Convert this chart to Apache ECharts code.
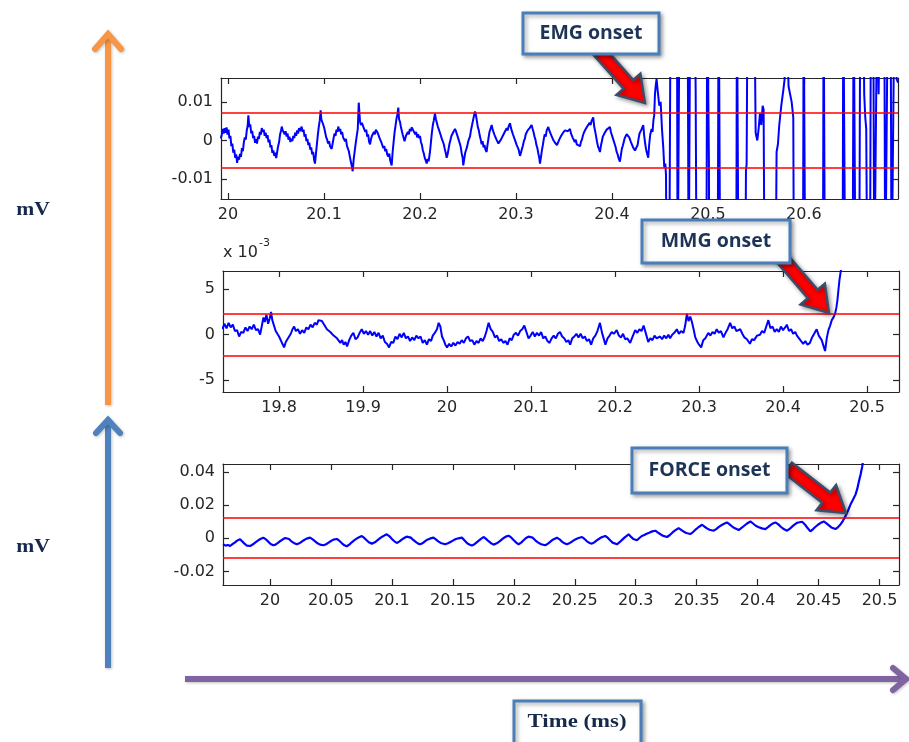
<!DOCTYPE html>
<html><head><meta charset="utf-8">
<script src="https://cdn.jsdelivr.net/npm/echarts@6/dist/echarts.min.js"></script>
<style>html,body{margin:0;padding:0;background:#fff}#c{width:909px;height:742px}</style>
</head><body><div id="c"></div>
<script>
// ---------------- DATA ----------------
// EMG: [time, amplitude in 1e-3 mV]
const emgSamples = [
[19.9925,0.5],[19.9935,1.5],[19.9945,3],[19.9955,1.8],[19.9965,3.2],[19.9975,2],[19.9985,3.4],[19.9995,1.5],[20.0005,2.8],[20.0015,0.5],[20.0025,1.2],[20.0035,-1.5],[20.0045,-0.8],[20.0055,-3.2],[20.0065,-2.4],[20.0075,-4.5],[20.0085,-3.6],[20.0095,-5.8],[20.0105,-4.2],[20.0115,-5],[20.0125,-3.5],[20.0135,-4.3],[20.0145,-2],[20.0155,-2.8],[20.0165,-0.5],[20.0175,0.8],[20.0185,0.2],[20.0195,2.5],[20.0205,3.8],[20.0212,6.5],[20.0222,3.5],[20.0232,4.2],[20.0242,1.8],[20.0252,2.5],[20.0262,0.6],[20.0272,1.2],[20.0282,-0.6],[20.0292,0.3],[20.0302,-0.8],[20.0312,1],[20.0322,0.4],[20.0332,2.2],[20.0342,1.5],[20.0352,3.2],[20.0362,2.2],[20.0372,2.8],[20.0382,1.2],[20.0392,2],[20.0402,0.6],[20.0412,1.4],[20.0422,-0.5],[20.0432,0.2],[20.0442,-1.8],[20.0452,-1.2],[20.0462,-3.2],[20.0472,-2.6],[20.0482,-4],[20.0492,-3.2],[20.0502,-4.6],[20.0512,-3],[20.0522,-1.5],[20.0532,-0.5],[20.0542,1.5],[20.0552,2.5],[20.056,3.6],[20.057,2.6],[20.058,3],[20.059,1.6],[20.06,2.4],[20.061,1],[20.062,1.8],[20.063,0.2],[20.064,1],[20.065,-0.4],[20.066,0.4],[20.067,-0.2],[20.068,1.2],[20.069,0.6],[20.07,2],[20.071,1.2],[20.072,2.6],[20.073,1.8],[20.074,3.2],[20.075,2.4],[20.0767,3.6],[20.0777,2.2],[20.0787,2.8],[20.0797,1],[20.0807,1.6],[20.0817,-0.2],[20.0827,0.4],[20.0837,-1.2],[20.0847,-0.6],[20.0857,-2.4],[20.0867,-1.8],[20.0877,-3.6],[20.0887,-3],[20.0897,-5],[20.0906,-6],[20.0916,-3.5],[20.0926,-1],[20.0936,1.5],[20.0946,3.6],[20.0956,5.2],[20.0965,7.8],[20.0972,5.5],[20.0982,6],[20.0993,4],[20.1003,3.2],[20.1013,2],[20.1023,0.8],[20.1033,0.2],[20.1043,-0.8],[20.1053,-0.2],[20.1063,-1.5],[20.1073,-1],[20.108,-2.2],[20.109,-0.8],[20.11,0.6],[20.111,1.8],[20.112,1.2],[20.113,2.8],[20.114,2.2],[20.1149,3.6],[20.1159,2.4],[20.1169,3],[20.1179,1.6],[20.1189,2.2],[20.1199,0.8],[20.1209,1.2],[20.1219,-0.2],[20.1229,0.4],[20.1239,-1.4],[20.1249,-1],[20.1259,-2.8],[20.1269,-4.2],[20.1279,-5.4],[20.1289,-6.6],[20.1299,-8],[20.1309,-5],[20.1319,-3],[20.1329,-1],[20.134,1],[20.1352,3],[20.1362,9.8],[20.1368,10.2],[20.1375,5],[20.1385,4],[20.1395,4.6],[20.141,3.5],[20.142,3.8],[20.143,2.2],[20.144,2.8],[20.145,1],[20.146,1.6],[20.147,-0.4],[20.148,-1],[20.149,0.4],[20.15,1.2],[20.151,0.8],[20.152,2.2],[20.153,1.6],[20.154,2.8],[20.1549,3.2],[20.1559,2],[20.1569,2.4],[20.1579,0.6],[20.1589,1],[20.1599,-0.6],[20.1609,-0.2],[20.1618,-2],[20.1628,-1.4],[20.1638,-2.8],[20.1648,-2.2],[20.1658,-3.6],[20.167,-4.2],[20.168,-3.4],[20.169,-5.2],[20.1705,-6.5],[20.1715,-3],[20.1725,-0.5],[20.1735,2],[20.1745,3.8],[20.1755,5.6],[20.1765,6.8],[20.1774,8.5],[20.1782,5.5],[20.1792,4.8],[20.1802,3.4],[20.1809,3],[20.1819,1.6],[20.1829,1.2],[20.1839,-0.2],[20.1844,0.2],[20.1854,1.2],[20.1864,0.8],[20.1874,2.2],[20.1884,1.6],[20.1894,3],[20.1904,2.4],[20.1914,3.4],[20.193,2.6],[20.194,3],[20.195,1.6],[20.196,2.2],[20.197,0.8],[20.198,1.6],[20.199,0.6],[20.2,1.2],[20.201,-0.4],[20.202,-1.2],[20.203,-2.6],[20.204,-3.4],[20.205,-4.6],[20.206,-5.2],[20.207,-6],[20.208,-4.8],[20.209,-5.4],[20.2104,-3],[20.2114,-0.5],[20.2124,2],[20.2134,4],[20.2144,5.2],[20.2156,7],[20.2166,5.5],[20.2176,5.8],[20.2186,3.6],[20.2196,4],[20.2208,2],[20.2218,1.6],[20.2228,0.4],[20.2238,0.8],[20.2248,-1],[20.2258,-2.2],[20.2268,-3.2],[20.2278,-4.5],[20.2288,-3.6],[20.2298,-2.2],[20.2308,-0.8],[20.2318,0.2],[20.2328,1.2],[20.2338,0.8],[20.2348,2.2],[20.2358,1.8],[20.2365,3],[20.2375,2.4],[20.2385,2.6],[20.2395,0.8],[20.2405,1.2],[20.2415,-0.8],[20.2425,-1.8],[20.2435,-3.4],[20.2445,-4.6],[20.2451,-6.5],[20.2461,-4.8],[20.2471,-3.2],[20.2481,-2.4],[20.2491,-1.6],[20.2501,-0.4],[20.2511,0.4],[20.2521,1],[20.2531,2.6],[20.2541,3.8],[20.2551,5],[20.2561,6.2],[20.2573,7.5],[20.2583,6.6],[20.2593,5],[20.2603,3.4],[20.2613,2.6],[20.2623,1.2],[20.2633,0.2],[20.2642,-1],[20.2652,-0.2],[20.2662,-1.8],[20.2672,-1.2],[20.2682,-2.4],[20.2694,-3],[20.2704,-1],[20.2714,0.6],[20.2724,2.2],[20.2734,1.8],[20.2747,4],[20.2757,2.8],[20.2767,3.2],[20.2777,1.4],[20.2787,1.8],[20.2797,0.2],[20.2807,0.6],[20.2817,-0.8],[20.2827,-0.4],[20.2833,-1],[20.2843,0.2],[20.2853,-0.2],[20.2863,1.2],[20.2873,0.8],[20.2883,2.2],[20.2893,1.8],[20.2903,3.2],[20.2913,2.6],[20.2923,3.6],[20.2938,4.5],[20.2948,3.2],[20.2958,3.6],[20.2968,1.6],[20.2978,2],[20.2988,0.2],[20.2998,0.6],[20.3008,-1.2],[20.3018,-0.8],[20.3028,-2.4],[20.3038,-2],[20.3042,-4],[20.3052,-3.2],[20.3062,-2.2],[20.3072,-1.4],[20.3082,-0.2],[20.3092,0.4],[20.3102,1.6],[20.3112,1.2],[20.3122,2.6],[20.3132,2.2],[20.3142,3.2],[20.3152,2.8],[20.3163,4],[20.3173,3],[20.3183,2.2],[20.3193,1],[20.3203,0.2],[20.3213,-1.2],[20.3223,-2],[20.3233,-3.4],[20.3243,-4.6],[20.325,-6],[20.326,-4.4],[20.327,-2.6],[20.328,-1.2],[20.329,0.4],[20.33,1.6],[20.331,1],[20.332,2.6],[20.3337,3.5],[20.3347,2.6],[20.3357,3],[20.3367,1.4],[20.3377,1.8],[20.3387,0.2],[20.3397,0.6],[20.3407,-0.6],[20.3417,-0.2],[20.3427,-1.2],[20.3441,-1],[20.3451,0.2],[20.3461,-0.2],[20.3471,1.2],[20.3481,0.8],[20.3491,2],[20.3501,1.6],[20.3511,2.6],[20.3521,2.2],[20.3531,3],[20.3541,2.4],[20.3551,2.8],[20.3563,3],[20.3573,1.8],[20.3583,2.2],[20.3593,0.6],[20.3603,1],[20.3613,-0.4],[20.3623,0.2],[20.3633,-1],[20.3643,-0.6],[20.3653,-1.4],[20.3667,-1.5],[20.3677,-0.4],[20.3687,0.2],[20.3697,1.2],[20.3707,2],[20.3717,1.6],[20.3727,3],[20.3737,2.6],[20.3747,3.8],[20.3757,3.4],[20.3767,4.6],[20.3777,4],[20.3787,5],[20.3805,6],[20.3815,3.6],[20.3825,2.4],[20.3835,1],[20.3845,-0.4],[20.3855,-1.6],[20.3865,-2.2],[20.3875,-3],[20.3885,-1.4],[20.3895,-0.2],[20.3905,1],[20.3915,0.6],[20.3925,2],[20.3935,1.6],[20.3945,2.8],[20.3955,2.4],[20.3965,3.2],[20.3979,3.5],[20.3989,2.2],[20.3999,2.4],[20.4009,0.6],[20.4019,0.8],[20.4029,-1],[20.4039,-1.8],[20.4049,-3],[20.4059,-3.6],[20.4069,-4.6],[20.4083,-5.5],[20.4093,-3.8],[20.4103,-2.2],[20.4113,-1.4],[20.4123,-0.4],[20.4133,0.6],[20.4143,0.2],[20.4153,1.6],[20.4163,1.2],[20.417,2],[20.418,0.8],[20.419,1],[20.42,-0.6],[20.421,-0.4],[20.422,-1.8],[20.423,-1.4],[20.424,-2.6],[20.4257,-3],[20.4267,-1.2],[20.4277,0.4],[20.4287,1.8],[20.4297,1.4],[20.4307,2.8],[20.4317,2.4],[20.4326,4],[20.4336,1.2],[20.4346,-0.8],[20.4356,-2.4],[20.4366,-3.4],[20.4378,-4.5],[20.4388,-1],[20.4398,1.4],[20.4413,3],[20.4423,2.2],[20.4432,5.2],[20.444,6.5],[20.4448,12],[20.4457,14.5],[20.4465,16],[20.4476,13],[20.4485,11],[20.4493,9],[20.4507,10],[20.4521,3],[20.4535,-2],[20.4545,-7],[20.4556,-6],[20.4563,-9],[20.457,-40],[20.4597,-40],[20.4611,40],[20.4677,40],[20.4684,-40],[20.4694,-40],[20.4705,40],[20.4788,40],[20.4799,-40],[20.4806,-40],[20.4816,40],[20.4861,40],[20.4872,13],[20.4882,-40],[20.4983,-40],[20.4993,40],[20.5003,40],[20.501,-5],[20.5014,-40],[20.5101,-40],[20.5111,40],[20.5118,13],[20.5128,-40],[20.5295,-40],[20.5302,40],[20.5313,40],[20.5319,-40],[20.5389,-40],[20.5396,-8],[20.5403,-6],[20.5413,40],[20.5483,40],[20.5497,2],[20.5514,0],[20.5528,3],[20.5542,7],[20.5556,4],[20.557,9],[20.558,8],[20.559,-40],[20.5705,-40],[20.5715,-3],[20.5729,-1],[20.5743,4],[20.5764,9],[20.5785,13],[20.5799,16],[20.5809,40],[20.5823,40],[20.584,14],[20.5872,10],[20.5889,6],[20.5896,-40],[20.599,-40],[20.5997,40],[20.6007,40],[20.6014,-40],[20.6198,-40],[20.6205,40],[20.6212,40],[20.6219,-40],[20.6403,-40],[20.641,40],[20.642,40],[20.6431,-40],[20.6507,-40],[20.6518,40],[20.6528,40],[20.6538,-40],[20.6576,-40],[20.6587,40],[20.6618,40],[20.6628,12],[20.6639,6],[20.6649,3],[20.666,-40],[20.6688,-40],[20.6698,40],[20.6722,40],[20.6733,-40],[20.675,-40],[20.6764,40],[20.6778,12],[20.6792,40],[20.6837,40],[20.6847,-40],[20.6865,-40],[20.6875,40],[20.6903,40],[20.6913,-40],[20.693,-40],[20.6944,40],[20.6965,16],[20.698,15]
];
// MMG: [time, amplitude in 1e-3 mV]
const mmgSamples = [
[19.7325,0.6],[19.735,1.2],[19.7375,0.7],[19.74,1.3],[19.7425,0.8],[19.745,1.1],[19.7475,0.4],[19.75,0.5],[19.7525,-0.2],[19.755,0.3],[19.7575,0.2],[19.76,0.8],[19.7625,0.4],[19.765,0.9],[19.7675,0.6],[19.77,1.1],[19.7725,0.5],[19.775,0.6],[19.7775,0],[19.78,1.2],[19.7815,1.9],[19.783,1.4],[19.785,2.2],[19.787,1.2],[19.789,1.8],[19.7905,2.5],[19.792,1.6],[19.794,1.4],[19.796,0.4],[19.798,0.6],[19.8,-0.2],[19.802,-0.6],[19.804,-1],[19.806,-1.4],[19.808,-0.8],[19.81,-0.9],[19.812,-0.2],[19.814,0.1],[19.816,0.6],[19.818,0.9],[19.82,0.4],[19.8225,0.6],[19.825,0.1],[19.8275,0.5],[19.83,0.2],[19.8325,0.8],[19.835,0.6],[19.8375,1.1],[19.84,0.8],[19.8425,1.3],[19.845,1.1],[19.847,1.6],[19.849,1.4],[19.851,1.5],[19.853,1.2],[19.855,1],[19.857,0.6],[19.859,0.7],[19.861,0.3],[19.863,0.4],[19.865,-0.1],[19.867,0.1],[19.869,-0.4],[19.871,-0.3],[19.873,-0.9],[19.875,-0.6],[19.877,-1.1],[19.879,-0.8],[19.881,-1.3],[19.8835,-0.6],[19.886,-0.1],[19.8885,0.2],[19.891,-0.5],[19.8935,-0.3],[19.896,0.2],[19.8985,0.6],[19.901,0.1],[19.9035,0.4],[19.906,0],[19.9085,0.4],[19.911,-0.1],[19.9135,0.3],[19.916,-0.2],[19.9185,0.2],[19.921,-0.4],[19.9235,-0.1],[19.926,-0.8],[19.9285,-1],[19.931,-1.4],[19.9335,-0.8],[19.936,-0.9],[19.9385,-0.2],[19.941,-0.5],[19.9435,0.1],[19.946,-0.3],[19.9485,0.2],[19.951,-0.4],[19.9535,-0.2],[19.956,-0.7],[19.9585,-0.3],[19.961,-0.6],[19.9635,-0.1],[19.966,-0.4],[19.9685,-0.2],[19.971,-0.9],[19.9735,-0.6],[19.976,-1.1],[19.9785,-0.5],[19.981,-0.7],[19.983,-0.1],[19.9855,0.2],[19.988,0.6],[19.99,1.3],[19.992,0.9],[19.994,-0.2],[19.996,-0.6],[19.998,-1.1],[20,-1.4],[20.0025,-1],[20.005,-1.3],[20.0075,-0.9],[20.01,-1.2],[20.0125,-0.8],[20.015,-1],[20.0175,-0.6],[20.02,-0.9],[20.0225,-0.4],[20.025,-0.2],[20.0275,-0.7],[20.03,-0.6],[20.0325,-1.1],[20.035,-0.7],[20.0375,-0.9],[20.04,-0.4],[20.0425,-0.7],[20.045,-0.2],[20.047,0.4],[20.0495,1.3],[20.052,0.6],[20.0545,0.3],[20.057,-0.3],[20.0595,-0.1],[20.062,-0.7],[20.0645,-0.5],[20.067,-0.9],[20.0695,-0.7],[20.072,-1.1],[20.0745,-0.4],[20.077,-0.6],[20.0795,0],[20.082,0.2],[20.0845,-0.1],[20.087,0.4],[20.0895,0.6],[20.092,1],[20.0945,0.3],[20.097,-0.4],[20.0995,-0.1],[20.102,0.3],[20.1045,-0.2],[20.107,0.2],[20.1095,-0.1],[20.112,0.3],[20.1145,-0.4],[20.117,-0.2],[20.1195,-0.7],[20.122,-0.9],[20.1245,-0.4],[20.127,-0.1],[20.1295,-0.4],[20.132,0.1],[20.1345,0.3],[20.137,-0.2],[20.1395,-0.4],[20.142,-0.8],[20.1445,-0.6],[20.1465,-1.1],[20.149,-0.4],[20.1515,-0.2],[20.154,0.1],[20.1565,-0.3],[20.159,0.1],[20.1615,-0.4],[20.164,-0.2],[20.1665,-0.7],[20.169,-0.5],[20.1715,-1.1],[20.174,-0.4],[20.1765,-0.1],[20.179,0.4],[20.182,1.3],[20.1845,0.2],[20.187,-0.6],[20.1885,-1.1],[20.191,-0.4],[20.1935,-0.1],[20.196,0.3],[20.1985,0.1],[20.202,0.5],[20.2045,-0.1],[20.207,-0.3],[20.2095,0.1],[20.212,-0.5],[20.2145,-0.4],[20.218,-0.9],[20.2205,-0.3],[20.224,0.5],[20.2265,0.2],[20.229,0.6],[20.2315,0.4],[20.234,1],[20.2365,0.2],[20.2395,-0.8],[20.242,-0.4],[20.2445,-0.6],[20.247,-0.1],[20.2495,-0.4],[20.2535,-0.2],[20.256,-0.5],[20.2585,-0.1],[20.261,-0.4],[20.2635,0],[20.2655,-0.4],[20.268,0],[20.2705,0.2],[20.2735,0.6],[20.276,0.1],[20.2785,0.4],[20.2815,0.2],[20.2835,1],[20.2855,2.3],[20.2875,1.5],[20.2895,2],[20.2915,1.4],[20.2935,0.6],[20.2955,-0.3],[20.298,-0.8],[20.3,-1.1],[20.3025,-1.4],[20.305,-0.6],[20.3075,-0.4],[20.311,0.2],[20.3135,-0.1],[20.316,0.3],[20.3185,0.1],[20.321,0.6],[20.3235,0.2],[20.326,0.4],[20.329,-0.3],[20.3315,0.2],[20.334,0.6],[20.337,1.3],[20.3395,0.7],[20.342,0.9],[20.3445,0.4],[20.349,0.6],[20.3515,0.1],[20.354,-0.3],[20.357,-0.5],[20.3605,-1],[20.363,-0.5],[20.3655,-0.6],[20.369,-0.1],[20.3725,0],[20.375,0.4],[20.3775,0.2],[20.38,0.9],[20.3825,1.6],[20.385,0.7],[20.3875,0.9],[20.39,0.3],[20.3925,0.6],[20.395,0.3],[20.3975,0.9],[20.4,0.5],[20.4025,0.8],[20.4045,1.1],[20.407,0.4],[20.4095,0.6],[20.412,0.1],[20.4145,0.3],[20.4165,-0.1],[20.419,-0.4],[20.4215,-0.7],[20.424,-1],[20.4265,-0.7],[20.429,-1.1],[20.432,-0.9],[20.4345,-0.3],[20.437,0.1],[20.44,0.6],[20.4425,-0.1],[20.446,-0.6],[20.448,-1.2],[20.45,-1.8],[20.452,-0.4],[20.454,0.5],[20.456,1],[20.458,1.6],[20.46,1.9],[20.4619,2.3],[20.4635,3],[20.4647,3.8],[20.466,5],[20.4671,6],[20.4687,7],[20.472,9]
];
// FORCE: [time, amplitude in 1e-3 mV]
const forceSamples = [
[19.9614,-3.6],[19.9635,-4.4],[19.9655,-4],[19.9672,-4.6],[19.969,-3.6],[19.971,-2.6],[19.973,-1.4],[19.9754,-0.5],[19.977,-1.6],[19.979,-3.2],[19.981,-4.4],[19.9823,-5.2],[19.984,-4.6],[19.986,-3.6],[19.988,-2.4],[19.99,-1.4],[19.992,-0.4],[19.9945,0.4],[19.9965,-0.6],[19.9985,-2],[20.0005,-3.4],[20.0027,-4.2],[20.0045,-3.8],[20.0065,-2.8],[20.0085,-1.6],[20.0105,-0.6],[20.0125,0.2],[20.0137,0.8],[20.0155,-0.4],[20.0175,-1.8],[20.0195,-2.8],[20.0219,-3.6],[20.024,-3],[20.026,-2],[20.028,-1],[20.03,-0.2],[20.0328,0.4],[20.035,-0.6],[20.037,-1.8],[20.039,-3],[20.041,-3.8],[20.0438,-4.2],[20.046,-3.6],[20.048,-2.6],[20.05,-1.6],[20.052,-0.8],[20.0548,-0.4],[20.057,-1.6],[20.059,-3],[20.061,-4.2],[20.0629,-4.8],[20.065,-3.8],[20.067,-2.4],[20.069,-1.2],[20.071,-0.2],[20.073,0.6],[20.0753,1.4],[20.077,0.4],[20.079,-1],[20.081,-2.4],[20.0835,-3.2],[20.086,-2.4],[20.088,-1.2],[20.09,0],[20.092,1],[20.094,1.8],[20.0958,2.4],[20.098,1.2],[20.1,-0.4],[20.102,-1.8],[20.104,-2.8],[20.106,-2],[20.108,-0.8],[20.11,0.2],[20.112,1],[20.1136,1.4],[20.1155,0.4],[20.1175,-1],[20.1195,-2.2],[20.1215,-3.2],[20.1232,-3.6],[20.125,-3],[20.127,-1.8],[20.129,-0.8],[20.131,-0.2],[20.1341,0.4],[20.136,-0.6],[20.138,-1.8],[20.14,-2.8],[20.1437,-3.6],[20.146,-3],[20.148,-2.2],[20.15,-1.4],[20.152,-0.6],[20.1545,0],[20.1573,0.4],[20.159,-0.8],[20.161,-2.4],[20.163,-3.6],[20.1656,-4.4],[20.168,-3.4],[20.17,-2.2],[20.172,-1],[20.1751,0.8],[20.177,-0.2],[20.179,-1.6],[20.181,-2.8],[20.1834,-3.8],[20.186,-3],[20.188,-2],[20.19,-0.8],[20.192,0.4],[20.194,1.2],[20.1957,1.6],[20.198,0.4],[20.2,-1.2],[20.202,-2.6],[20.2039,-3.6],[20.206,-2.6],[20.208,-1.2],[20.21,0.2],[20.212,1],[20.2135,1.4],[20.2155,0.4],[20.2176,-1.2],[20.22,-2.6],[20.2225,-3.6],[20.2258,-4.2],[20.228,-3.2],[20.23,-2],[20.232,-0.8],[20.2353,0.4],[20.2375,-0.6],[20.2395,-2],[20.2415,-3],[20.2435,-3.6],[20.246,-2.8],[20.248,-1.8],[20.25,-0.8],[20.2525,0],[20.2559,0.8],[20.258,-0.4],[20.26,-1.8],[20.262,-2.8],[20.2641,-3.2],[20.2665,-2.2],[20.2685,-1],[20.2705,0],[20.2725,0.8],[20.275,1.4],[20.277,0.4],[20.279,-1.2],[20.281,-2.6],[20.2846,-3.6],[20.287,-2.2],[20.289,-0.8],[20.291,0.6],[20.2942,2.4],[20.296,1],[20.298,-0.4],[20.301,-1.2],[20.303,0.2],[20.305,1.4],[20.307,2],[20.309,2.8],[20.311,3.4],[20.3135,4.2],[20.3161,4.6],[20.318,3.6],[20.32,2.6],[20.322,1.6],[20.3257,0.8],[20.328,2],[20.33,3.4],[20.332,4.6],[20.3352,6.2],[20.3375,5],[20.3395,4],[20.3415,3.2],[20.3448,2.6],[20.347,3.8],[20.349,5.2],[20.351,6.4],[20.3544,8.2],[20.3565,7],[20.3585,6],[20.3605,5.2],[20.364,4.6],[20.366,5.6],[20.368,6.8],[20.37,7.8],[20.372,8.6],[20.3749,9.6],[20.377,8.4],[20.379,7.2],[20.381,6.2],[20.3845,5],[20.387,6.4],[20.389,7.6],[20.391,8.8],[20.3941,10.2],[20.3965,8.8],[20.3985,7.6],[20.4005,6.8],[20.4035,6],[20.4064,5.6],[20.4085,6.8],[20.4105,8],[20.4125,9],[20.4146,9.6],[20.417,8.4],[20.419,7],[20.421,5.8],[20.4242,4.6],[20.4265,5.8],[20.4285,7.2],[20.4305,8.4],[20.4325,9.4],[20.4365,10],[20.439,8.2],[20.441,6.2],[20.4433,4.2],[20.4455,5.6],[20.4475,7],[20.4495,8.2],[20.4515,9.2],[20.4543,10.2],[20.4565,9],[20.4585,7.8],[20.4605,6.6],[20.4639,5.6],[20.466,6.8],[20.468,8.4],[20.47,10.6],[20.4721,13.4],[20.4742,16.8],[20.4762,20.4],[20.4783,23.4],[20.4803,26.4],[20.4818,30],[20.4831,34.4],[20.4845,38.6],[20.4858,43.3],[20.4872,50]
];
// thresholds (red lines)
const emgThresholds = [0.0072, -0.0072];      // mV
const mmgThresholds = [2.3, -2.3];            // x 1e-3 mV
const forceThresholds = [0.0122, -0.0118];    // mV
// axis ranges
const emgXRange = [19.9927, 20.698], emgYRange = [-0.0152, 0.0162];
const mmgXRange = [19.7333, 20.538], mmgYRange = [-6.3, 7.0];
const forceXRange = [19.9614, 20.516], forceYRange = [-0.0282, 0.0449];
// tick values
const emgXTicks = [20, 20.1, 20.2, 20.3, 20.4, 20.5, 20.6];
const emgYTicks = [-0.01, 0, 0.01];
const mmgXTicks = [19.8, 19.9, 20, 20.1, 20.2, 20.3, 20.4, 20.5];
const mmgYTicks = [-5, 0, 5];
const forceXTicks = [20, 20.05, 20.1, 20.15, 20.2, 20.25, 20.3, 20.35, 20.4, 20.45, 20.5];
const forceYTicks = [-0.02, 0, 0.02, 0.04];
// annotation texts
const calloutTexts = ['EMG onset', 'MMG onset', 'FORCE onset'];
const unitLabel = 'mV';
const timeLabel = 'Time (ms)';

// ---------------- CHART ----------------
const chart = echarts.init(document.getElementById('c'), null, {renderer: 'canvas'});
const AX = '#262626';
const labelFont = {color: AX, fontFamily: 'DejaVu Sans', fontSize: 16};

function xAxis(grid, range, ticks, pos, showLabel) {
  return {type: 'value', gridIndex: grid, min: range[0], max: range[1], position: pos,
    axisLine: {show: true, onZero: false, lineStyle: {color: AX, width: 1.2}},
    axisTick: {show: true, inside: true, length: 6, customValues: ticks, lineStyle: {color: AX, width: 1.2}},
    axisLabel: Object.assign({show: showLabel, customValues: ticks, margin: 8}, labelFont),
    splitLine: {show: false}};
}
function yAxis(grid, range, ticks, pos, showLabel) {
  return {type: 'value', gridIndex: grid, min: range[0], max: range[1], position: pos,
    axisLine: {show: true, onZero: false, lineStyle: {color: AX, width: 1.2}},
    axisTick: {show: true, inside: true, length: 6, customValues: ticks, lineStyle: {color: AX, width: 1.2}},
    axisLabel: Object.assign({show: showLabel, customValues: ticks, margin: 8}, labelFont),
    splitLine: {show: false}};
}
function signal(idx, data, thresholds, width) {
  return {type: 'line', xAxisIndex: idx, yAxisIndex: idx, data: data, showSymbol: false, symbol: 'none',
    clip: true, lineStyle: {color: '#0000ff', width: width, join: 'bevel'}, emphasis: {disabled: true}, animation: false,
    markLine: {silent: true, symbol: 'none', animation: false, precision: 6, label: {show: false},
      lineStyle: {color: '#ff0000', width: 1.5, type: 'solid'},
      data: thresholds.map(v => ({yAxis: v}))}};
}

function blockArrow(tail, tip, shaftW, headW, headL) {
  const dx = tip[0] - tail[0], dy = tip[1] - tail[1], L = Math.hypot(dx, dy);
  const ux = dx / L, uy = dy / L, nx = -uy, ny = ux;
  const bx = tip[0] - ux * headL, by = tip[1] - uy * headL;
  return [[tail[0] + nx * shaftW / 2, tail[1] + ny * shaftW / 2], [bx + nx * shaftW / 2, by + ny * shaftW / 2],
    [bx + nx * headW / 2, by + ny * headW / 2], tip, [bx - nx * headW / 2, by - ny * headW / 2],
    [bx - nx * shaftW / 2, by - ny * shaftW / 2], [tail[0] - nx * shaftW / 2, tail[1] - ny * shaftW / 2]];
}
const shadow = {shadowBlur: 4, shadowColor: 'rgba(0,0,0,0.35)', shadowOffsetX: 2, shadowOffsetY: 2};
function redArrow(tail, tip) {
  return {type: 'polygon', z: 100, shape: {points: blockArrow(tail, tip, 13, 32, 25)},
    style: Object.assign({fill: '#ff0000', stroke: '#3c4d6b', lineWidth: 2.5}, shadow)};
}
function callout(x, y, w, h, text) {
  return [
    {type: 'rect', z: 101, shape: {x: x, y: y, width: w, height: h},
      style: Object.assign({fill: '#ffffff', stroke: '#4a7ebb', lineWidth: 3}, shadow)},
    {type: 'text', z: 102, x: x + w / 2, y: y + h / 2,
      style: {text: text, font: 'bold 19.5px "Open Sans"', fill: '#1d3457', align: 'center', verticalAlign: 'middle',
        textAlign: 'center', textVerticalAlign: 'middle'}}
  ];
}
const arrowShadow = {shadowBlur: 3, shadowColor: 'rgba(0,0,0,0.25)', shadowOffsetX: 1, shadowOffsetY: 1};
function bigArrow(color, p0, p1, head) {
  return [
    {type: 'line', z: 90, shape: {x1: p0[0], y1: p0[1], x2: p1[0], y2: p1[1]},
      style: Object.assign({stroke: color, lineWidth: 6}, arrowShadow)},
    {type: 'polyline', z: 90, shape: {points: head},
      style: Object.assign({stroke: color, lineWidth: 6, lineJoin: 'miter', lineCap: 'round', fill: null}, arrowShadow)}
  ];
}
function serifText(x, y, text, size) {
  return {type: 'text', z: 102, x: x, y: y, scaleX: 1.2,
    style: {text: text, font: 'bold ' + size + 'px "Liberation Serif"', fill: '#16294a', align: 'center', verticalAlign: 'middle',
      textAlign: 'center', textVerticalAlign: 'middle'}};
}

const graphics = [].concat(
  bigArrow('#f79646', [108, 405], [108, 38], [[95, 49], [108, 34], [121, 49]]),
  bigArrow('#4f81bd', [108, 668], [108, 423], [[96, 433], [108, 420], [120, 433]]),
  bigArrow('#8064a2', [185, 679], [903, 679], [[893, 668], [906, 679], [893, 690]]),
  [serifText(33, 210, unitLabel, 18), serifText(33, 547, unitLabel, 18)],
  [{type: 'rect', z: 101, shape: {x: 514, y: 701, width: 127, height: 50},
    style: Object.assign({fill: '#ffffff', stroke: '#4a7ebb', lineWidth: 3}, shadow)},
   serifText(577, 722, timeLabel, 19)],
  [redArrow([598, 50], [645, 103]), redArrow([780, 256], [829, 313]), redArrow([788, 468], [846, 513])],
  callout(523, 13, 136, 41, calloutTexts[0]),
  callout(642, 220, 148, 43, calloutTexts[1]),
  callout(632, 448, 155, 45, calloutTexts[2]),
  [{type: 'text', z: 102, x: 223, y: 253, style: {text: 'x 10', font: '16px "DejaVu Sans"', fill: AX, align: 'left', verticalAlign: 'middle', textAlign: 'left', textVerticalAlign: 'middle'}},
   {type: 'text', z: 102, x: 259, y: 243, style: {text: '-3', font: '11px "DejaVu Sans"', fill: AX, align: 'left', verticalAlign: 'middle', textAlign: 'left', textVerticalAlign: 'middle'}}]
);

chart.setOption({
  animation: false,
  backgroundColor: '#ffffff',
  grid: [
    {left: 221, top: 78, width: 677, height: 121, containLabel: false, outerBoundsMode: 'none'},
    {left: 223, top: 271, width: 676, height: 121, containLabel: false, outerBoundsMode: 'none'},
    {left: 223, top: 464, width: 676, height: 121, containLabel: false, outerBoundsMode: 'none'}
  ],
  xAxis: [
    xAxis(0, emgXRange, emgXTicks, 'bottom', true), xAxis(0, emgXRange, emgXTicks, 'top', false),
    xAxis(1, mmgXRange, mmgXTicks, 'bottom', true), xAxis(1, mmgXRange, mmgXTicks, 'top', false),
    xAxis(2, forceXRange, forceXTicks, 'bottom', true), xAxis(2, forceXRange, forceXTicks, 'top', false)
  ],
  yAxis: [
    yAxis(0, emgYRange, emgYTicks, 'left', true), yAxis(0, emgYRange, emgYTicks, 'right', false),
    yAxis(1, mmgYRange, mmgYTicks, 'left', true), yAxis(1, mmgYRange, mmgYTicks, 'right', false),
    yAxis(2, forceYRange, forceYTicks, 'left', true), yAxis(2, forceYRange, forceYTicks, 'right', false)
  ],
  series: [
    signal(0, emgSamples.map(p => [p[0], p[1] / 1000]), emgThresholds, 2),
    signal(2, mmgSamples, mmgThresholds, 2),
    signal(4, forceSamples.map(p => [p[0], p[1] / 1000]), forceThresholds, 2.2)
  ],
  graphic: {elements: graphics}
});
</script></body></html>
